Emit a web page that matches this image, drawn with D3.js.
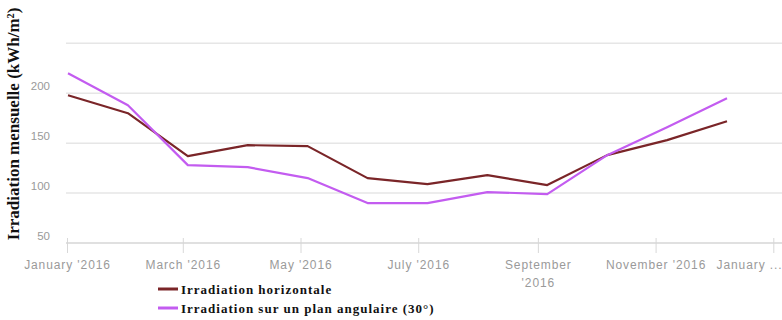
<!DOCTYPE html>
<html><head><meta charset="utf-8">
<script src="https://cdn.jsdelivr.net/npm/d3@7"></script>
<style>body{margin:0;background:#fff;}svg{display:block;}</style>
</head><body>
<svg id="chart" width="782" height="320"></svg>
<script>
const months = ["2016-01","2016-02","2016-03","2016-04","2016-05","2016-06","2016-07","2016-08","2016-09","2016-10","2016-11","2016-12"];
const irradHorizontale = [198, 180, 137, 148, 147, 115, 109, 118, 108, 138, 153, 172];
const irradAngulaire   = [220, 188, 128, 126, 115, 90, 90, 101, 99, 138, 166, 195];
const seriesNames = ["Irradiation horizontale", "Irradiation sur un plan angulaire (30°)"];
const yTicks = [50, 100, 150, 200, 250];
const yTickLabels = ["50", "100", "150", "200", ""];
const xTickLabels = ["January '2016", "March '2016", "May '2016", "July '2016", "September '2016", "November '2016", "January ..."];
const yTitle = "Irradiation mensuelle (kWh/m²)";

const colors = ["#7a2528", "#c35cf0"];
const svg = d3.select("#chart");

const y = d3.scaleLinear().domain([50, 250]).range([243, 43.3]);
const xTime = d3.scaleTime().domain([new Date(2016,0,1), new Date(2017,0,1)]).range([67, 773.3]);
const xData = d3.scalePoint().domain(months).range([68, 727]);

// gridlines
svg.append("g").selectAll("line").data(yTicks.filter(d => d > 50)).join("line")
  .attr("x1", 66).attr("x2", 782)
  .attr("y1", d => y(d)).attr("y2", d => y(d))
  .attr("stroke", "#e6e6e6").attr("stroke-width", 1.5);

// y labels
svg.append("g").selectAll("text").data(yTicks).join("text")
  .attr("x", 50).attr("y", d => y(d) - 3)
  .attr("text-anchor", "end")
  .attr("font-family", "Liberation Sans, Arial, sans-serif")
  .attr("font-size", 11.5).attr("fill", "#9a9a9a")
  .text((d, i) => yTickLabels[i]);

// x axis
const xTickVals = xTime.ticks(d3.timeMonth.every(2));
const xAxis = d3.axisBottom(xTime).tickValues(xTickVals).tickSize(0).tickFormat((d, i) => xTickLabels[i]);
const gx = svg.append("g").attr("transform", `translate(0,${y(50)})`).call(xAxis);
gx.select(".domain").remove();
gx.append("line").attr("x1", 66).attr("x2", 782).attr("stroke", "#d6d6d6").attr("stroke-width", 1.5);
gx.selectAll(".tick").append("line").attr("y1", -5).attr("y2", 10).attr("stroke", "#d8d8d8");
gx.selectAll(".tick text")
  .attr("font-family", "Liberation Sans, Arial, sans-serif")
  .attr("font-size", 12).attr("letter-spacing", 0.9).attr("fill", "#9a9a9a")
  .attr("y", 26).attr("dy", 0)
  .each(function(d, i) {
    const t = d3.select(this);
    const label = xTickLabels[i];
    if (i === xTickLabels.length - 1) {
      t.attr("text-anchor", "end").attr("x", 782 - xTime(d));
    }
    if (label.length > 14) {
      const parts = label.split(" ");
      t.text(null);
      parts.forEach((p, k) => t.append("tspan").attr("x", 0).attr("dy", k === 0 ? 0 : 18).text(p));
    }
  });

// lines
const line = d3.line().x((d, i) => xData(months[i])).y(d => y(d));
[irradHorizontale, irradAngulaire].forEach((s, k) => {
  svg.append("path").datum(s).attr("d", line)
    .attr("fill", "none").attr("stroke", colors[k]).attr("stroke-width", 2.2)
    .attr("stroke-linejoin", "round");
});

// y title
svg.append("text")
  .attr("transform", "translate(19,124) rotate(-90)")
  .attr("text-anchor", "middle")
  .attr("font-family", "Liberation Serif, Times New Roman, serif")
  .attr("font-weight", "bold").attr("font-size", 17).attr("fill", "#111")
  .text(yTitle);

// legend
const lg = svg.append("g").selectAll("g").data(seriesNames).join("g")
  .attr("transform", (d, i) => `translate(158,${289 + i * 19})`);
lg.append("line").attr("x1", 0).attr("x2", 20).attr("stroke", (d, i) => colors[i]).attr("stroke-width", 3);
lg.append("text").attr("x", 23).attr("y", 4.5)
  .attr("font-family", "Liberation Serif, Times New Roman, serif")
  .attr("font-weight", "bold").attr("font-size", 13).attr("letter-spacing", 1).attr("fill", "#111")
  .text(d => d);
</script>
</body></html>
